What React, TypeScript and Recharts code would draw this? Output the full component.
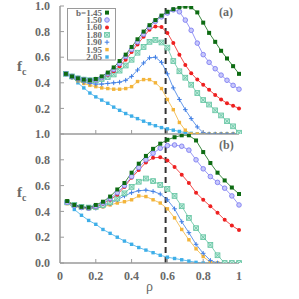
import React from "react";
import { LineChart, Line, XAxis, YAxis, ReferenceLine, Legend } from "recharts";

// ρ grids of the two panels
const rhoTop = [
  0.033, 0.067, 0.1, 0.133, 0.167, 0.2, 0.233, 0.267, 0.3, 0.333, 0.367, 0.4, 0.433, 0.467, 0.5,
  0.533, 0.567, 0.6, 0.633, 0.667, 0.7, 0.733, 0.767, 0.8, 0.833, 0.867, 0.9, 0.933, 0.967, 1.0,
];
const rhoBottom = [
  0.04, 0.08, 0.12, 0.16, 0.2, 0.24, 0.28, 0.32, 0.36, 0.4, 0.44, 0.48, 0.52, 0.56, 0.6, 0.64,
  0.68, 0.72, 0.76, 0.8, 0.84, 0.88, 0.92, 0.96, 1.0,
];

// panel (a)
const topB145 = [0.47, 0.45, 0.435, 0.425, 0.42, 0.43, 0.45, 0.48, 0.52, 0.57, 0.62, 0.68, 0.74, 0.8, 0.85, 0.89, 0.925, 0.955, 0.975, 0.99, 0.995, 0.99, 0.95, 0.87, 0.79, 0.72, 0.65, 0.59, 0.53, 0.47];
const topB150 = [0.47, 0.45, 0.435, 0.425, 0.42, 0.425, 0.44, 0.47, 0.505, 0.55, 0.605, 0.66, 0.72, 0.78, 0.835, 0.88, 0.915, 0.945, 0.97, 0.955, 0.89, 0.81, 0.71, 0.62, 0.56, 0.51, 0.46, 0.42, 0.38, 0.35];
const topB160 = [0.47, 0.445, 0.43, 0.42, 0.415, 0.42, 0.435, 0.46, 0.49, 0.53, 0.58, 0.64, 0.7, 0.76, 0.815, 0.84, 0.835, 0.79, 0.71, 0.62, 0.54, 0.475, 0.425, 0.385, 0.345, 0.305, 0.27, 0.24, 0.22, 0.2];
const topB180 = [0.47, 0.45, 0.435, 0.425, 0.42, 0.42, 0.43, 0.445, 0.465, 0.495, 0.535, 0.58, 0.635, 0.68, 0.72, 0.735, 0.715, 0.675, 0.57, 0.49, 0.44, 0.385, 0.32, 0.265, 0.23, 0.185, 0.145, 0.1, 0.06, 0.01];
const topB190 = [0.47, 0.44, 0.42, 0.405, 0.395, 0.39, 0.39, 0.395, 0.4, 0.405, 0.42, 0.45, 0.5, 0.555, 0.595, 0.6, 0.56, 0.47, 0.36, 0.27, 0.19, 0.12, 0.055, 0.01, 0, 0, 0, 0, 0, 0];
const topB195 = [0.47, 0.44, 0.415, 0.395, 0.38, 0.37, 0.36, 0.355, 0.35, 0.35, 0.355, 0.37, 0.41, 0.425, 0.425, 0.4, 0.355, 0.27, 0.19, 0.09, 0.03, 0, 0, 0, 0, 0, 0, 0, 0, 0];
const topB205 = [0.47, 0.445, 0.4, 0.36, 0.32, 0.29, 0.265, 0.24, 0.21, 0.185, 0.16, 0.14, 0.12, 0.1, 0.08, 0.065, 0.05, 0.04, 0.03, 0.02, 0.01, 0.005, 0, 0, 0, 0, 0, 0, 0, 0];

// panel (b)
const botB145 = [0.48, 0.45, 0.435, 0.43, 0.45, 0.475, 0.515, 0.57, 0.62, 0.7, 0.77, 0.83, 0.885, 0.925, 0.955, 0.975, 0.99, 0.99, 0.95, 0.86, 0.775, 0.7, 0.64, 0.585, 0.535];
const botB150 = [0.47, 0.445, 0.43, 0.425, 0.44, 0.465, 0.5, 0.545, 0.6, 0.67, 0.74, 0.8, 0.85, 0.89, 0.91, 0.915, 0.905, 0.875, 0.8, 0.73, 0.67, 0.625, 0.58, 0.52, 0.45];
const botB160 = [0.48, 0.445, 0.43, 0.425, 0.435, 0.46, 0.49, 0.53, 0.59, 0.66, 0.72, 0.78, 0.815, 0.82, 0.795, 0.745, 0.685, 0.62, 0.545, 0.49, 0.44, 0.39, 0.335, 0.29, 0.255];
const botB180 = [0.47, 0.45, 0.435, 0.43, 0.435, 0.45, 0.47, 0.5, 0.54, 0.59, 0.63, 0.655, 0.635, 0.605, 0.575, 0.52, 0.44, 0.35, 0.27, 0.2, 0.14, 0.06, 0, 0, 0];
const botB190 = [0.47, 0.45, 0.435, 0.425, 0.425, 0.44, 0.46, 0.49, 0.52, 0.545, 0.56, 0.565, 0.555, 0.535, 0.49, 0.42, 0.32, 0.235, 0.145, 0.075, 0.02, 0, 0, 0, 0];
const botB195 = [0.46, 0.44, 0.425, 0.42, 0.425, 0.435, 0.45, 0.465, 0.475, 0.49, 0.52, 0.515, 0.49, 0.465, 0.42, 0.35, 0.26, 0.18, 0.11, 0.05, 0.005, 0, 0, 0, 0];
const botB205 = [0.475, 0.415, 0.37, 0.33, 0.3, 0.26, 0.23, 0.2, 0.17, 0.145, 0.12, 0.1, 0.08, 0.06, 0.045, 0.035, 0.025, 0.015, 0.005, 0, 0, 0, 0, 0, 0];

const xTicks = [0, 0.2, 0.4, 0.6, 0.8, 1];
const topYTicks = [0.2, 0.4, 0.6, 0.8, 1.0];
const botYTicks = [0, 0.2, 0.4, 0.6, 0.8, 1.0];
const rhoStar = 0.59;

const topData = rhoTop.map((rho, i) => ({
  rho,
  b145: topB145[i], b150: topB150[i], b160: topB160[i], b180: topB180[i],
  b190: topB190[i], b195: topB195[i], b205: topB205[i],
}));
const botData = rhoBottom.map((rho, i) => ({
  rho,
  b145: botB145[i], b150: botB150[i], b160: botB160[i], b180: botB180[i],
  b190: botB190[i], b195: botB195[i], b205: botB205[i],
}));

const series = [
  { key: "b145", name: "b=1.45", color: "#0d6b12", kind: "sq" },
  { key: "b150", name: "1.50", color: "#7f7ff2", kind: "circ" },
  { key: "b160", name: "1.60", color: "#ee2020", kind: "dot" },
  { key: "b180", name: "1.80", color: "#5fc39f", kind: "sqx" },
  { key: "b190", name: "1.90", color: "#3e7de4", kind: "plus" },
  { key: "b195", name: "1.95", color: "#f3b43a", kind: "small" },
  { key: "b205", name: "2.05", color: "#3eaee8", kind: "small" },
];

const AXIS = "#9a9a9a";
const TEXT = "#6a6a6a";
const FONT = '"Liberation Serif", "Times New Roman", serif';

function Marker({ kind, color, cx, cy }: any) {
  if (cx == null || cy == null) return null;
  switch (kind) {
    case "sq":
      return <rect x={cx - 2} y={cy - 2} width={4} height={4} fill={color} />;
    case "circ":
      return <circle cx={cx} cy={cy} r={2.3} fill="#c8c8fb" stroke={color} strokeWidth={0.9} />;
    case "dot":
      return <circle cx={cx} cy={cy} r={2} fill={color} />;
    case "sqx":
      return (
        <g stroke={color} strokeWidth={0.8}>
          <rect x={cx - 2.4} y={cy - 2.4} width={4.8} height={4.8} fill="#c6ecdf" />
          <line x1={cx - 2} y1={cy - 2} x2={cx + 2} y2={cy + 2} />
          <line x1={cx - 2} y1={cy + 2} x2={cx + 2} y2={cy - 2} />
        </g>
      );
    case "plus":
      return (
        <g stroke={color} strokeWidth={1}>
          <line x1={cx - 2.3} y1={cy} x2={cx + 2.3} y2={cy} />
          <line x1={cx} y1={cy - 2.3} x2={cx} y2={cy + 2.3} />
        </g>
      );
    default:
      return <rect x={cx - 1.7} y={cy - 1.7} width={3.4} height={3.4} fill={color} />;
  }
}

// legend box drawn as svg text rows, tightly packed like the figure
function LegendBox() {
  const rowH = 7.4;
  return (
    <svg width={50} height={53} style={{ display: "block" }}>
      <rect x={0.5} y={0.5} width={48} height={51.5} fill="#fff" stroke={AXIS} strokeWidth={1} />
      {series.map((s, i) => {
        const cy = 4.6 + i * rowH;
        return (
          <g key={s.key}>
            <text
              x={35}
              y={cy}
              dy="0.33em"
              textAnchor="end"
              fill={TEXT}
              fontFamily={FONT}
              fontWeight="bold"
              fontSize={9}
            >
              {s.name}
            </text>
            <Marker kind={s.kind} color={s.color} cx={40} cy={cy} />
          </g>
        );
      })}
    </svg>
  );
}

// tick label plus a short inward tick on the left axis
function YTick({ x, y, payload }: any) {
  return (
    <g>
      <line x1={x + 10} x2={x + 14} y1={y} y2={y} stroke={AXIS} strokeWidth={1} />
      <text x={x} y={y} dy="0.35em" textAnchor="end" fill={TEXT} fontFamily={FONT} fontWeight="bold" fontSize={12}>
        {payload.value.toFixed(1)}
      </text>
    </g>
  );
}

function XTick({ x, y, payload, show }: any) {
  const v = payload.value;
  const label = v === 0 ? "0" : v === 1 ? "1" : v.toFixed(1);
  const inside = v > 0 && v < 1;
  return (
    <g>
      {inside && <line x1={x} x2={x} y1={y - 8} y2={y - 12} stroke={AXIS} strokeWidth={1} />}
      {show && (
        <text x={x} y={y} dy="0.71em" textAnchor="middle" fill={TEXT} fontFamily={FONT} fontWeight="bold" fontSize={12}>
          {label}
        </text>
      )}
    </g>
  );
}

function renderLines() {
  return [...series].reverse().map((s) => (
    <Line
      key={s.key}
      type="linear"
      dataKey={s.key}
      stroke={s.color}
      strokeWidth={0.8}
      isAnimationActive={false}
      dot={(p: any) => <Marker key={`${s.key}-${p.index}`} kind={s.kind} color={s.color} cx={p.cx} cy={p.cy} />}
      activeDot={false}
    />
  ));
}

function Panel({ data, yTicks, showX, height, marginBottom, xHeight, legend }: any) {
  return (
    <LineChart width={299} height={height} data={data} margin={{ top: 6, right: 60, left: 0, bottom: marginBottom }}>
      <XAxis
        dataKey="rho"
        type="number"
        domain={[0, 1]}
        ticks={xTicks}
        height={xHeight}
        stroke={AXIS}
        strokeWidth={1.5}
        tickLine={false}
        tickSize={0}
        tickMargin={8}
        tick={(p: any) => <XTick {...p} show={showX} />}
        interval={0}
      />
      <XAxis xAxisId="frameTop" orientation="top" type="number" domain={[0, 1]} height={0} tick={false} stroke={AXIS} strokeWidth={1.5} />
      <YAxis
        type="number"
        domain={[0, 1]}
        ticks={yTicks}
        width={60}
        stroke={AXIS}
        strokeWidth={1.5}
        tickLine={false}
        tickSize={0}
        tickMargin={10}
        tick={(p: any) => <YTick {...p} />}
        interval={0}
        allowDataOverflow
      />
      <YAxis yAxisId="frameRight" orientation="right" type="number" domain={[0, 1]} width={0} tick={false} stroke={AXIS} strokeWidth={1.5} />
      <ReferenceLine x={rhoStar} stroke="#333" strokeWidth={2} strokeDasharray="6 4" />
      {renderLines()}
      {legend && (
        <Legend
          layout="vertical"
          align="center"
          verticalAlign="middle"
          content={() => <LegendBox />}
          wrapperStyle={{ position: "absolute", left: 67, top: 8, width: 50 }}
        />
      )}
    </LineChart>
  );
}

const labelStyle: React.CSSProperties = {
  position: "absolute",
  fontFamily: FONT,
  fontWeight: "bold",
  color: TEXT,
};

export default function App() {
  return (
    <div style={{ position: "absolute", left: 0, top: 0, width: 299, height: 299, background: "#fff", overflow: "hidden" }}>
      <div style={{ position: "absolute", left: 0, top: 0 }}>
        <Panel data={topData} yTicks={topYTicks} showX={false} height={140} marginBottom={0} xHeight={6} legend />
      </div>
      <div style={{ position: "absolute", left: 0, top: 128 }}>
        <Panel data={botData} yTicks={botYTicks} showX={true} height={171} marginBottom={6} xHeight={30} legend={false} />
      </div>
      <div style={{ ...labelStyle, left: 219, top: 5, fontSize: 12 }}>(a)</div>
      <div style={{ ...labelStyle, left: 219, top: 138, fontSize: 12 }}>(b)</div>
      <div style={{ ...labelStyle, left: 17, top: 58, fontSize: 15 }}>
        f<sub style={{ fontSize: 10 }}>c</sub>
      </div>
      <div style={{ ...labelStyle, left: 17, top: 184, fontSize: 15 }}>
        f<sub style={{ fontSize: 10 }}>c</sub>
      </div>
      <div style={{ ...labelStyle, left: 146, top: 279, fontSize: 14, fontWeight: "normal" }}>ρ</div>
    </div>
  );
}
